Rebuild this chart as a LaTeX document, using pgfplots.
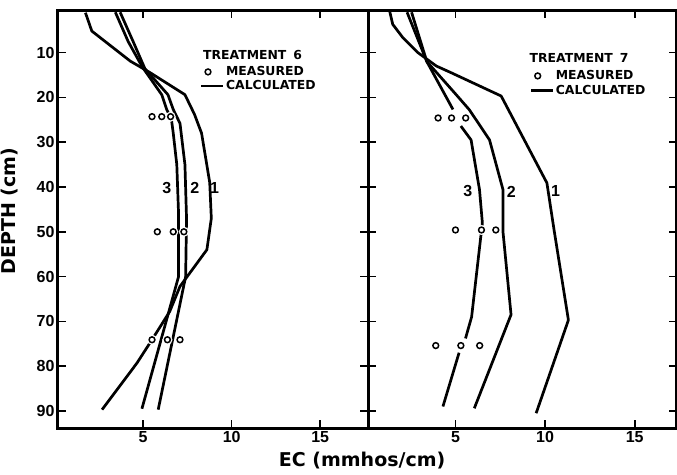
\documentclass[border=0pt]{standalone}
\usepackage{fontspec}
\setmainfont{DejaVu Sans}
\newfontfamily\tickfont{Liberation Sans}
\usepackage{pgfplots}
\pgfplotsset{compat=1.18}

\newcommand\lgfont{\bfseries\fontsize{12.4}{12.4}\selectfont}
\newcommand\labfont{\bfseries\fontsize{19}{19}\selectfont}
\newcommand\numfont{\tickfont\bfseries\fontsize{16}{16}\selectfont}

\pgfplotsset{
  ecpanel/.style={
    scale only axis, height=418pt,
    y dir=reverse, ymin=0.5, ymax=93.8,
    xtick={5,10,15}, ytick={10,20,...,90},
    tick align=inside, major tick length=8pt,
    every tick/.style={black, line width=1.6pt},
    axis line style={line width=3pt},
    tick label style={font=\numfont},
    /pgf/number format/assume math mode=true,
    legend cell align=left,
  },
  calc/.style={black, line width=2.7pt, line join=round, no marks, forget plot},
  halo/.style={only marks, mark=*, mark size=4.8pt, color=white,
    mark options={fill=white, draw=white}, forget plot},
  meas/.style={only marks, mark=o, mark size=2.9pt, black,
    mark options={line width=1.5pt}, forget plot},
  lgd/.style={draw=none, fill=none, inner sep=0pt, row sep=0.5pt, font=\lgfont,
    nodes={inner sep=1.5pt}},
}

\begin{document}
\begin{tikzpicture}
% treatment 6
\begin{axis}[ecpanel, name=left, width=310pt,
    xmin=0.19, xmax=17.7,
    ylabel={DEPTH (cm)},
    ylabel style={font=\labfont, at={(axis description cs:-0.155,0.519)}, anchor=center},
    xlabel={EC (mmhos/cm)},
    xlabel style={font=\labfont, at={(axis description cs:0.981,-0.0926)}, anchor=base},
    legend style={lgd, at={(axis cs:8.2,15.9)}, anchor=west},
  ]
\addlegendimage{legend image code/.code={\draw[line width=1.5pt] (6.7pt,0pt) circle[radius=2.9pt];}}
\addlegendentry{MEASURED}
\addlegendimage{legend image code/.code={\draw[line width=2.6pt] (0pt,0pt) -- (22pt,0pt);}}
\addlegendentry{CALCULATED}
% calculated, 1
\addplot[calc] coordinates {(1.74,1.1) (2.1,5.2) (4.27,11.9) (5.4,14.5) (7.36,19.4) (7.9,23.8)
  (8.3,28) (8.76,39) (8.85,47) (8.6,54) (7.08,62.2) (6.5,67.8) (5.5,74.1) (4.65,79.3) (2.68,89.7)};
% calculated, 2
\addplot[calc] coordinates {(3.7,1) (4.43,7.5) (5.1,13.6) (6.4,19.4) (6.7,22.7) (7.08,25.8)
  (7.36,35) (7.45,47) (7.4,60) (5.85,89.7)};
% calculated, 3
\addplot[calc] coordinates {(3.43,1) (4.15,7.5) (4.95,13.2) (6.05,19.4) (6.33,22.7) (6.6,25)
  (6.7,28) (6.9,35) (7.0,46) (7.0,60) (4.93,89.5)};
% measured
\addplot[halo] coordinates {(5.5,24.3) (6.05,24.3) (6.55,24.3) (5.8,50) (6.7,50) (7.3,50)
  (5.5,74.1) (6.37,74.1) (7.08,74.1)};
\addplot[meas] coordinates {(5.5,24.3) (6.05,24.3) (6.55,24.3) (5.8,50) (6.7,50) (7.3,50)
  (5.5,74.1) (6.37,74.1) (7.08,74.1)};
\node[font=\numfont] at (axis cs:6.33,40.3) {3};
\node[font=\numfont] at (axis cs:7.92,40.3) {2};
\node[font=\numfont] at (axis cs:9.04,40.3) {1};
\node[font=\lgfont, anchor=west, inner sep=0pt] at (axis cs:8.38,10.5) {TREATMENT\hspace{7pt}6};
\end{axis}

% treatment 7
\begin{axis}[ecpanel, name=right, width=308.5pt,
    at={(left.south east)}, anchor=south west,
    xmin=0.12, xmax=17.33, yticklabels={},
    legend style={lgd, at={(axis cs:9.13,16.85)}, anchor=west, row sep=1pt},
  ]
\addlegendimage{legend image code/.code={\draw[line width=1.5pt] (6.7pt,0pt) circle[radius=2.9pt];}}
\addlegendentry{MEASURED}
\addlegendimage{legend image code/.code={\draw[line width=2.6pt] (0pt,0pt) -- (22pt,0pt);}}
\addlegendentry{CALCULATED}
% calculated, 1
\addplot[calc] coordinates {(1.33,0.8) (1.5,3.7) (2.07,6.7) (2.9,10) (3.93,13) (4.76,14.5)
  (7.55,19.7) (10.1,39.1) (10.5,49.6) (11.3,69.7) (9.5,90.5)};
% calculated, 2
\addplot[calc] coordinates {(2.3,1) (3.4,12) (5.04,19.4) (5.78,22.8) (6.9,29.5) (7.65,40.6)
  (7.65,50) (8.1,68.5) (6.05,89.4)};
% calculated, 3 (broken at the measured points)
\addplot[calc] coordinates {(2.55,1) (3.4,12) (4.86,22.7)};
\addplot[calc] coordinates {(5.3,26.4) (5.87,29.5) (6.34,40.6) (6.5,48) (5.9,69) (5.56,73.8)};
\addplot[calc] coordinates {(5.2,77) (4.3,89)};
% measured
\addplot[halo] coordinates {(4.03,24.6) (4.78,24.6) (5.57,24.6) (5.0,49.6) (6.45,49.6) (7.25,49.6)
  (3.9,75.4) (5.3,75.4) (6.35,75.4)};
\addplot[meas] coordinates {(4.03,24.6) (4.78,24.6) (5.57,24.6) (5.0,49.6) (6.45,49.6) (7.25,49.6)
  (3.9,75.4) (5.3,75.4) (6.35,75.4)};
\node[font=\numfont] at (axis cs:5.69,41) {3};
\node[font=\numfont] at (axis cs:8.11,41) {2};
\node[font=\numfont] at (axis cs:10.58,41) {1};
\node[font=\lgfont, anchor=west, inner sep=0pt] at (axis cs:9.13,11.25) {TREATMENT\hspace{7pt}7};
\end{axis}

\pgfresetboundingbox
\path[use as bounding box] (-58pt,-46pt) rectangle (619pt,428pt);
\end{tikzpicture}
\end{document}
